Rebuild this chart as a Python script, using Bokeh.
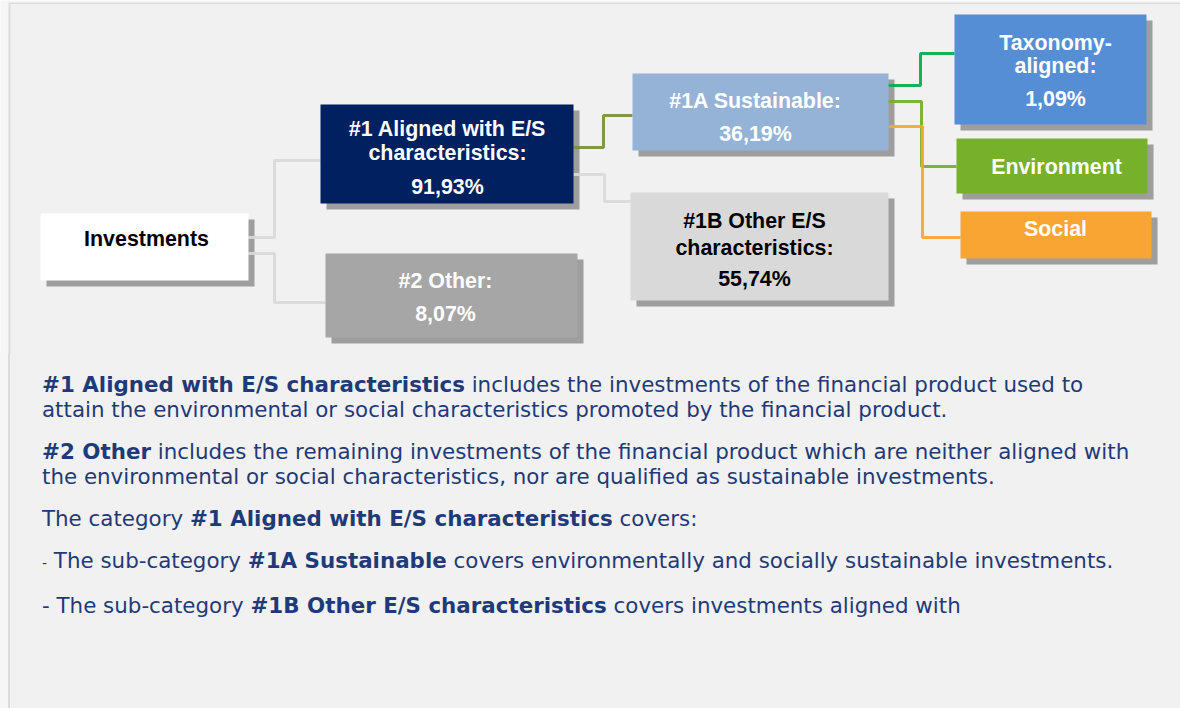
from bokeh.plotting import figure
from bokeh.models import Range1d, Div
from bokeh.layouts import column
from bokeh.embed import file_html
from bokeh.resources import INLINE
from bokeh.core.properties import value

# ---------------- data ----------------
nodes = ["Investments", "#1 Aligned with E/S characteristics", "#2 Other",
         "#1A Sustainable", "#1B Other E/S characteristics",
         "Taxonomy-aligned", "Environment", "Social"]
node_title_lines = [["Investments"],
                    ["#1 Aligned with E/S", "characteristics:"],
                    ["#2 Other:"],
                    ["#1A Sustainable:"],
                    ["#1B Other E/S", "characteristics:"],
                    ["Taxonomy-", "aligned:"],
                    ["Environment"],
                    ["Social"]]
shares = [None, 91.93, 8.07, 36.19, 55.74, 1.09, None, None]
links = [(0, 1), (0, 2), (1, 3), (1, 4), (3, 5), (3, 6), (3, 7)]

# ---------------- layout / style ----------------
W, H_TOP, H_TXT = 1180, 353, 355
PAGE_BG, BG, BORDER = "#f6f6f6", "#f1f1f1", "#dcdcdc"
box = {0: (40, 213, 248, 280), 1: (320, 104, 573, 203), 2: (325, 253, 577, 337),
       3: (632, 73, 888, 150), 4: (630, 192, 888, 300), 5: (954, 14, 1146, 124),
       6: (956, 138, 1147, 193), 7: (960, 211, 1151, 258)}
fill = {0: "#ffffff", 1: "#002060", 2: "#a6a6a6", 3: "#95b3d7", 4: "#d9d9d9",
        5: "#558ed5", 6: "#77b02a", 7: "#f9a533"}
txt_col = {0: "#000000", 1: "#ffffff", 2: "#ffffff", 3: "#ffffff", 4: "#000000",
           5: "#ffffff", 6: "#ffffff", 7: "#ffffff"}
text_x = {0: 146, 1: 447, 2: 445, 3: 755, 4: 754, 5: 1055, 6: 1056, 7: 1055}
title_y = {0: [238], 1: [128, 152], 2: [280], 3: [100], 4: [220, 247],
           5: [42, 65], 6: [166], 7: [228]}
value_y = {1: 186, 2: 313, 3: 133, 4: 278, 5: 98}
# link: (exit y at source, elbow x, entry y at target, colour)
link_geo = {(0, 1): (237, 274, 160, "#d9d9d9"), (0, 2): (253, 274, 302, "#d9d9d9"),
            (1, 3): (147, 603, 115, "#77933c"), (1, 4): (174, 604, 201, "#d9d9d9"),
            (3, 5): (85, 920, 53, "#00b050"), (3, 6): (101, 921, 166, "#77b02a"),
            (3, 7): (126, 922, 237, "#f9a533")}
SH = 6  # shadow offset

p = figure(width=W, height=H_TOP, output_backend="svg", toolbar_location=None,
           x_range=Range1d(0, W), y_range=Range1d(H_TOP, 0), min_border=0)
p.axis.visible = False
p.grid.visible = False
p.background_fill_color = PAGE_BG
p.border_fill_color = PAGE_BG
p.outline_line_color = None

# panel with left/top border
p.quad(left=[8], right=[W], top=[2], bottom=[H_TOP], fill_color=BORDER, line_color=None)
p.quad(left=[10], right=[W], top=[3.5], bottom=[H_TOP], fill_color=BG, line_color=None)

ids = list(range(len(nodes)))
# shadows
p.quad(left=[box[i][0] + SH for i in ids], right=[box[i][2] + SH for i in ids],
       top=[box[i][1] + SH for i in ids], bottom=[box[i][3] + SH for i in ids],
       fill_color="#8a8a8a", fill_alpha=0.8, line_color=None)

# connectors
for (s, t) in links:
    ey, ex, ty, col = link_geo[(s, t)]
    x_start = box[s][2]
    x_end = box[t][0]
    p.line([x_start, ex, ex, x_end], [ey, ey, ty, ty], line_color=col, line_width=3,
           line_alpha=0.95)

# boxes
p.quad(left=[box[i][0] for i in ids], right=[box[i][2] for i in ids],
       top=[box[i][1] for i in ids], bottom=[box[i][3] for i in ids],
       fill_color=[fill[i] for i in ids], line_color=None)

# labels
tx, ty, tt, tc = [], [], [], []
for i in ids:
    for line, y in zip(node_title_lines[i], title_y[i]):
        tx.append(text_x[i]); ty.append(y); tt.append(line); tc.append(txt_col[i])
    if shares[i] is not None:
        tx.append(text_x[i]); ty.append(value_y[i])
        tt.append(f"{shares[i]:.2f}".replace(".", ",") + "%"); tc.append(txt_col[i])
p.text(x=tx, y=ty, text=tt, text_color=tc, text_align="center", text_baseline="middle",
       text_font=value("Liberation Sans"), text_font_style="bold", text_font_size="21.4px")

# explanatory text
P = "margin:0 0 17px 0;white-space:nowrap;"
html = (
    f'<div style="margin:0 0 0 8px;border-left:2px solid {BORDER};background:{BG};'
    f'width:{W - 8}px;height:{H_TXT}px;box-sizing:border-box;'
    f'font-family:\'DejaVu Sans\';font-size:21.4px;line-height:25px;color:#1f3a78;'
    f'padding:19px 0 0 32px;">'
    f'<p style="{P}"><b>#1 Aligned with E/S characteristics</b> includes the investments of the financial product used to<br>'
    f'attain the environmental or social characteristics promoted by the financial product.</p>'
    f'<p style="{P}"><b>#2 Other</b> includes the remaining investments of the financial product which are neither aligned with<br>'
    f'the environmental or social characteristics, nor are qualified as sustainable investments.</p>'
    f'<p style="{P}">The category <b>#1 Aligned with E/S characteristics</b> covers:</p>'
    f'<p style="{P}"><span style="font-size:14px">-</span> The sub-category <b>#1A Sustainable</b> covers environmentally and socially sustainable investments.</p>'
    f'<p style="{P}">- The sub-category <b>#1B Other E/S characteristics</b> covers investments aligned with</p>'
    f'</div>'
)
div = Div(text=html, width=W, height=H_TXT,
          styles={"background-color": PAGE_BG, "margin": "0", "padding": "0"})

layout = column(p, div, spacing=0)
open("out.html", "w").write(file_html(layout, INLINE))
